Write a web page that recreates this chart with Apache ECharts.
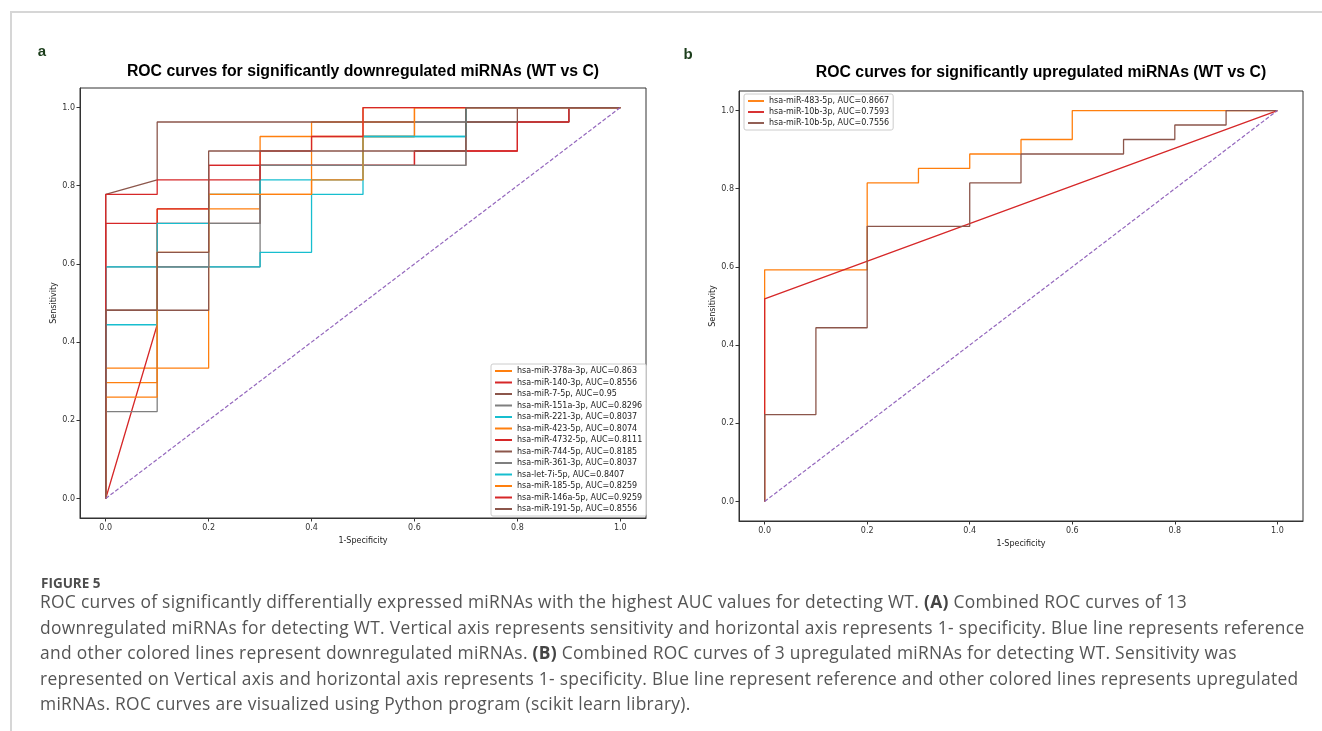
<!DOCTYPE html>
<html><head><meta charset="utf-8">
<script src="https://cdn.jsdelivr.net/npm/echarts@6/dist/echarts.min.js"></script>
<style>
html,body{margin:0;padding:0;background:#fff;}
#wrap{position:relative;width:1322px;height:731px;overflow:hidden;background:#fff;}
#chart{position:absolute;left:0;top:0;width:1322px;height:731px;}
.hline{position:absolute;left:10px;top:11px;width:1312px;height:0;border-top:2px solid #d6d6d6;}
.vline{position:absolute;left:10px;top:11px;width:0;height:720px;border-left:2px solid #d6d6d6;}
.fig{position:absolute;left:41px;top:575px;font-family:"Open Sans","Noto Sans",sans-serif;font-size:13.5px;line-height:16px;font-weight:bold;color:#4d4d4d;}
.cap{position:absolute;left:40px;font-family:"Open Sans","Noto Sans",sans-serif;font-size:17.4px;line-height:20px;letter-spacing:0.3px;color:#555;white-space:nowrap;}
.cap b{color:#444;font-weight:bold;}
</style></head><body>
<div id="wrap">
<div id="chart"></div>
<div class="hline"></div><div class="vline"></div>
<div class="fig">FIGURE 5</div>
<div class="cap" style="top:591px">ROC curves of significantly differentially expressed miRNAs with the highest AUC values for detecting WT. <b>(A)</b> Combined ROC curves of 13</div>
<div class="cap" style="top:616.5px">downregulated miRNAs for detecting WT. Vertical axis represents sensitivity and horizontal axis represents 1- specificity. Blue line represents reference</div>
<div class="cap" style="top:642px">and other colored lines represent downregulated miRNAs. <b>(B)</b> Combined ROC curves of 3 upregulated miRNAs for detecting WT. Sensitivity was</div>
<div class="cap" style="top:667.5px">represented on Vertical axis and horizontal axis represents 1- specificity. Blue line represent reference and other colored lines represents upregulated</div>
<div class="cap" style="top:693px">miRNAs. ROC curves are visualized using Python program (scikit learn library).</div>
</div>
<script>
// ---- Panel a: downregulated miRNAs ----
const downNames = ['hsa-miR-378a-3p, AUC=0.863','hsa-miR-140-3p, AUC=0.8556','hsa-miR-7-5p, AUC=0.95','hsa-miR-151a-3p, AUC=0.8296','hsa-miR-221-3p, AUC=0.8037','hsa-miR-423-5p, AUC=0.8074','hsa-miR-4732-5p, AUC=0.8111','hsa-miR-744-5p, AUC=0.8185','hsa-miR-361-3p, AUC=0.8037','hsa-let-7i-5p, AUC=0.8407','hsa-miR-185-5p, AUC=0.8259','hsa-miR-146a-5p, AUC=0.9259','hsa-miR-191-5p, AUC=0.8556'];

const fpr378a = [0,0,0.1,0.1,0.3,0.3,0.4,0.4,0.6,0.6,1];
const tpr378a = [0,0.2963,0.2963,0.7407,0.7407,0.9259,0.9259,0.963,0.963,1,1];
const fpr140 = [0,0,0.2,0.2,0.6,0.6,0.8,0.8,0.9,0.9,1];
const tpr140 = [0,0.7037,0.7037,0.8519,0.8519,0.8889,0.8889,0.963,0.963,1,1];
const fpr7 = [0,0,0.1,0.1,0.9,0.9,1];
const tpr7 = [0,0.7778,0.8148,0.963,0.963,1,1];
const fpr151a = [0,0,0.3,0.3,0.5,0.5,0.6,0.6,0.9,0.9,1];
const tpr151a = [0,0.5926,0.5926,0.8519,0.8519,0.9259,0.9259,0.963,0.963,1,1];
const fpr221 = [0,0,0.3,0.3,0.4,0.4,0.5,0.5,0.7,0.7,1];
const tpr221 = [0,0.5926,0.5926,0.6296,0.6296,0.7778,0.7778,0.9259,0.9259,1,1];
const fpr423 = [0,0,0.2,0.2,0.4,0.4,0.6,0.6,1];
const tpr423 = [0,0.3333,0.3333,0.7778,0.7778,0.9259,0.9259,1,1];
const fpr4732 = [0,0.1,0.1,0.2,0.2,0.6,0.6,0.8,0.8,0.9,0.9,1];
const tpr4732 = [0,0.4444,0.7407,0.7407,0.8519,0.8519,0.8889,0.8889,0.963,0.963,1,1];
const fpr744 = [0,0,0.2,0.2,0.3,0.3,0.7,0.7,0.8,0.8,1];
const tpr744 = [0,0.4815,0.4815,0.7037,0.7037,0.8519,0.8519,0.963,0.963,1,1];
const fpr361 = [0,0,0.1,0.1,0.2,0.2,0.3,0.3,0.7,0.7,1];
const tpr361 = [0,0.2222,0.2222,0.5926,0.5926,0.7037,0.7037,0.8519,0.8519,1,1];
const fprLet7i = [0,0,0.1,0.1,0.2,0.2,0.3,0.3,0.5,0.5,0.7,0.7,1];
const tprLet7i = [0,0.4444,0.4444,0.7037,0.7037,0.7778,0.7778,0.8148,0.8148,0.9259,0.9259,1,1];
const fpr185 = [0,0,0.1,0.1,0.2,0.2,0.4,0.4,0.5,0.5,1];
const tpr185 = [0,0.2593,0.2593,0.6296,0.6296,0.7778,0.7778,0.8148,0.8148,1,1];
const fpr146a = [0,0,0.1,0.1,0.3,0.3,0.4,0.4,0.5,0.5,1];
const tpr146a = [0,0.7778,0.7778,0.8148,0.8148,0.8889,0.8889,0.9259,0.9259,1,1];
const fpr191 = [0,0,0.1,0.1,0.2,0.2,0.7,0.7,1];
const tpr191 = [0,0.4815,0.4815,0.6296,0.6296,0.8889,0.8889,1,1];

// ---- Panel b: upregulated miRNAs ----
const upNames = ['hsa-miR-483-5p, AUC=0.8667','hsa-miR-10b-3p, AUC=0.7593','hsa-miR-10b-5p, AUC=0.7556'];
const fpr483 = [0,0,0.2,0.2,0.3,0.3,0.4,0.4,0.5,0.5,0.6,0.6,1];
const tpr483 = [0,0.5926,0.5926,0.8148,0.8148,0.8519,0.8519,0.8889,0.8889,0.9259,0.9259,1,1];
const fpr10b3 = [0,0,1];
const tpr10b3 = [0,0.5185,1];
const fpr10b5 = [0,0,0.1,0.1,0.2,0.2,0.4,0.4,0.5,0.5,0.7,0.7,0.8,0.8,0.9,0.9,1];
const tpr10b5 = [0,0.2222,0.2222,0.4444,0.4444,0.7037,0.7037,0.8148,0.8148,0.8889,0.8889,0.9259,0.9259,0.963,0.963,1,1];

const refFpr = [0,1];
const refTpr = [0,1];
const tickValues = [0,0.2,0.4,0.6,0.8,1.0];

const palette = ['#ff7f0e','#d62728','#8c564b','#7f7f7f','#17becf'];
const downCurves = [[fpr378a,tpr378a],[fpr140,tpr140],[fpr7,tpr7],[fpr151a,tpr151a],[fpr221,tpr221],[fpr423,tpr423],[fpr4732,tpr4732],[fpr744,tpr744],[fpr361,tpr361],[fprLet7i,tprLet7i],[fpr185,tpr185],[fpr146a,tpr146a],[fpr191,tpr191]];
const upCurves = [[fpr483,tpr483],[fpr10b3,tpr10b3],[fpr10b5,tpr10b5]];

const pts = (f,t) => f.map((x,i)=>[x,t[i]]);
const series = [];
downCurves.forEach((c,i)=>{
  const col = palette[i % 5];
  series.push({type:'line', name:downNames[i], xAxisIndex:0, yAxisIndex:0, data:pts(c[0],c[1]), symbol:'none', lineStyle:{width:1.3,color:col}, itemStyle:{color:col}, silent:true, animation:false});
});
series.push({type:'line', name:'refA', xAxisIndex:0, yAxisIndex:0, data:pts(refFpr,refTpr), symbol:'none', lineStyle:{width:1.2,color:'#9467bd',type:[4,2]}, silent:true, animation:false});
upCurves.forEach((c,i)=>{
  const col = palette[i];
  series.push({type:'line', name:upNames[i], xAxisIndex:1, yAxisIndex:1, data:pts(c[0],c[1]), symbol:'none', lineStyle:{width:1.3,color:col}, itemStyle:{color:col}, silent:true, animation:false});
});
series.push({type:'line', name:'refB', xAxisIndex:1, yAxisIndex:1, data:pts(refFpr,refTpr), symbol:'none', lineStyle:{width:1.2,color:'#9467bd',type:[4,2]}, silent:true, animation:false});

const axisCommon = (gi, name, isX) => ({
  gridIndex: gi, type:'value', min:-0.05, max:1.05,
  splitLine:{show:false},
  axisLine:{show:true, onZero:false, lineStyle:{color:'#333', width:1}},
  axisTick:{show:true, length:3.5, customValues:tickValues, lineStyle:{color:'#333', width:1}},
  axisLabel:{customValues:tickValues, formatter:v=>v.toFixed(1), fontSize:8, color:'#333', fontFamily:'DejaVu Sans', margin:isX?6:5},
  name:name, nameLocation:'middle', nameGap:isX?17:19,
  nameTextStyle:{fontSize:8, color:'#222', fontFamily:'DejaVu Sans'}
});

const lineIcon = 'path://M0,0 L34,0 L34,4 L0,4 Z';
const legendCommon = {orient:'vertical', icon:lineIcon, itemHeight:8, textStyle:{fontSize:8, color:'#222', fontFamily:'DejaVu Sans'}, borderColor:'#cccccc', borderWidth:1, borderRadius:2, backgroundColor:'rgba(255,255,255,0.8)', selectedMode:false, animation:false};

const chart = echarts.init(document.getElementById('chart'), null, {renderer:'canvas'});
chart.setOption({
  animation:false,
  grid:[
    {left:80, top:88, width:566, height:430, show:true, borderColor:'#333', borderWidth:1, containLabel:false},
    {left:739, top:91, width:564, height:430, show:true, borderColor:'#333', borderWidth:1, containLabel:false}
  ],
  xAxis:[axisCommon(0,'1-Specificity',true), axisCommon(1,'1-Specificity',true)],
  yAxis:[axisCommon(0,'Sensitivity',false), axisCommon(1,'Sensitivity',false)],
  legend:[
    Object.assign({}, legendCommon, {data:downNames, left:491, top:364, padding:[3,4], itemWidth:17, itemGap:3.5}),
    Object.assign({}, legendCommon, {data:upNames, left:744, top:94, padding:[3,4], itemWidth:16, itemGap:3})
  ],
  graphic:[
    {type:'text', x:363, y:72, style:{text:'ROC curves for significantly downregulated miRNAs (WT vs C)', font:'bold 15.8px "Liberation Sans"', fill:'#000', align:'center', verticalAlign:'middle'}},
    {type:'text', x:1041, y:73, style:{text:'ROC curves for significantly upregulated miRNAs (WT vs C)', font:'bold 15.8px "Liberation Sans"', fill:'#000', align:'center', verticalAlign:'middle'}},
    {type:'text', x:42, y:52, style:{text:'a', font:'bold 15px "Liberation Sans"', fill:'#1b3d1b', align:'center', verticalAlign:'middle'}},
    {type:'text', x:688, y:55, style:{text:'b', font:'bold 15px "Liberation Sans"', fill:'#1b3d1b', align:'center', verticalAlign:'middle'}}
  ],
  series:series
});
</script>
</body></html>
